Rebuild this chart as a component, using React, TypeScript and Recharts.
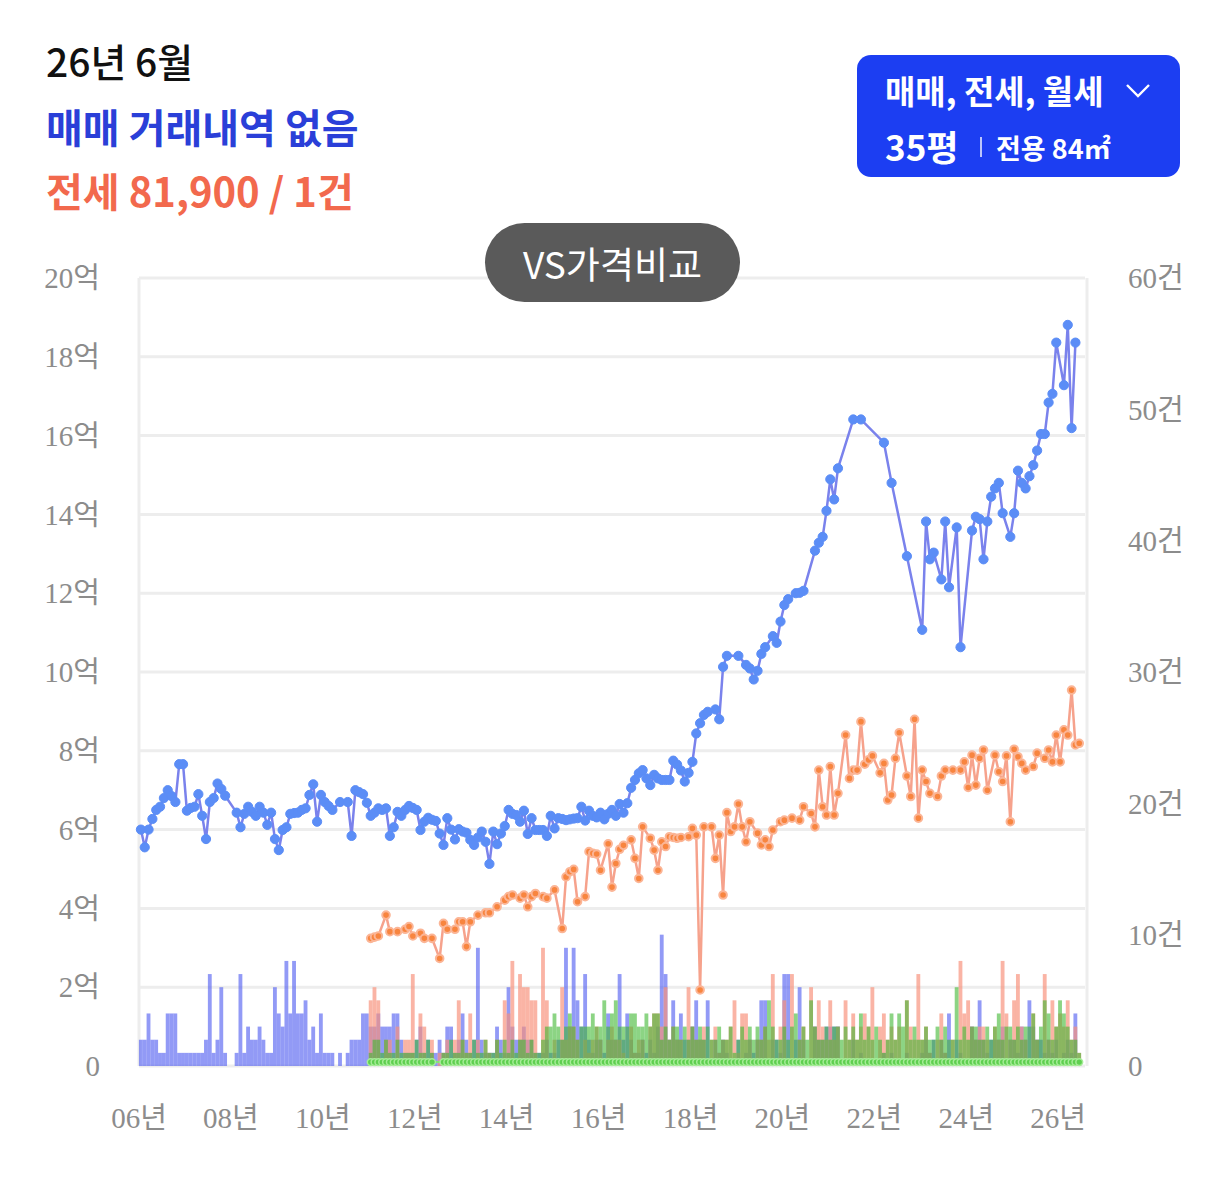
import React from 'react';
import { ComposedChart, Line, Bar, XAxis, YAxis, CartesianGrid } from 'recharts';

// Month index 0 = 2006-01 ... 245 = 2026-06
const yearTicks = [0, 24, 48, 72, 96, 120, 144, 168, 192, 216, 240];
const yearLabels = ['06년', '08년', '10년', '12년', '14년', '16년', '18년', '20년', '22년', '24년', '26년'];
const priceTicks = [0, 2, 4, 6, 8, 10, 12, 14, 16, 18, 20];
const countTicks = [0, 10, 20, 30, 40, 50, 60];

// 매매 price (억)
const salePrice: (number | null)[] = [
  6.0, 5.55, 6.0, 6.27, 6.5, 6.58, 6.8, 7.0, 6.85, 6.7, 7.66, 7.66,
  6.48, 6.55, 6.58, 6.9, 6.35, 5.76, 6.7, 6.8, 7.17, 7.03, 6.86, null,
  null, 6.43, 6.06, 6.4, 6.58, 6.45, 6.35, 6.58, 6.43, 6.12, 6.43, 5.76,
  5.48, 5.99, 6.06, 6.4, 6.42, 6.43, 6.5, 6.54, 6.88, 7.15, 6.2, 6.88,
  6.7, 6.6, 6.5, null, 6.7, null, 6.7, 5.84, 7.0, 6.95, 6.9, 6.68,
  6.35, 6.43, 6.54, 6.5, 6.54, 5.84, 6.06, 6.45, 6.35, 6.5, 6.6, 6.55,
  6.5, 5.99, 6.2, 6.3, 6.25, 6.22, 5.9, 5.61, 6.29, 6.0, 5.75, 6.01,
  5.95, 5.92, 5.74, 5.61, 5.8, 5.95, 5.69, 5.13, 5.95, 5.63, 5.9, 6.09,
  6.5, 6.4, 6.37, 6.2, 6.48, 5.89, 6.29, 5.99, 5.99, 5.99, 5.84, 6.35,
  6.03, 6.29, 6.27, 6.24, 6.26, 6.28, 6.29, 6.58, 6.23, 6.48, 6.35, 6.31,
  6.43, 6.26, 6.4, 6.5, 6.35, 6.65, 6.43, 6.67, 7.06, 7.26, 7.43, 7.51,
  7.3, 7.13, 7.39, 7.3, 7.26, 7.26, 7.26, 7.75, 7.65, 7.5, 7.22, 7.44,
  7.72, 8.44, 8.7, 8.91, 8.99, null, 9.05, 8.8, 10.13, 10.41, null, null,
  10.41, null, 10.18, 10.09, 9.81, 10.03, 10.46, 10.63, null, 10.91, 10.74, 11.28,
  11.7, 11.85, null, 12.0, 12.01, 12.06, null, null, 13.08, 13.28, 13.43, 14.09,
  14.89, 14.38, 15.17, null, null, null, 16.41, null, 16.41, null, null, null,
  null, null, 15.82, null, 14.8, null, null, null, 12.94, null, null, null,
  11.07, 13.82, 12.86, 13.03, null, 12.35, 13.82, 12.15, null, 13.67, 10.63, null,
  null, 13.59, 13.94, 13.88, 12.86, 13.82, 14.45, 14.66, 14.8, 14.03, null, 13.43,
  14.03, 15.11, 14.8, 14.66, 14.97, 15.25, 15.62, 16.04, 16.04, 16.84, 17.06, 18.36,
  null, 17.28, 18.81, 16.19, 18.36, null,
];

// 전세 price (억)
const jeonsePrice: (number | null)[] = [
  null, null, null, null, null, null, null, null, null, null, null, null,
  null, null, null, null, null, null, null, null, null, null, null, null,
  null, null, null, null, null, null, null, null, null, null, null, null,
  null, null, null, null, null, null, null, null, null, null, null, null,
  null, null, null, null, null, null, null, null, null, null, null, null,
  3.24, 3.27, 3.3, null, 3.83, 3.41, null, 3.41, null, 3.47, 3.54, 3.3,
  null, 3.37, 3.24, null, 3.24, null, 2.73, 3.62, 3.47, null, 3.47, 3.66,
  3.66, 3.03, 3.66, null, 3.83, null, 3.89, 3.89, null, 4.04, null, 4.21,
  4.3, 4.34, null, 4.26, 4.34, 4.04, 4.3, 4.38, null, 4.3, 4.26, null,
  4.47, null, 3.49, 4.8, 4.93, 4.99, 4.17, null, 4.3, 5.44, 5.4, 5.38,
  4.97, null, 5.64, 4.54, 5.14, 5.5, 5.6, null, 5.74, 5.27, 4.76, 6.07,
  null, 5.78, 5.48, 4.97, 5.69, 5.57, 5.82, 5.8, 5.78, 5.8, null, 5.82,
  6.03, 5.86, 1.93, 6.07, null, 6.07, 5.27, 5.86, 4.34, 6.43, 5.95, 6.07,
  6.65, 6.07, 5.69, 6.2, null, 5.91, 5.61, 5.74, 5.57, 5.99, null, 6.2,
  6.24, null, 6.29, null, 6.24, 6.58, null, 6.41, 6.07, 7.51, 6.58, 6.37,
  7.6, 6.37, 6.92, null, 8.4, 7.3, 7.51, 7.51, 8.74, 7.66, 7.77, 7.87,
  null, 7.44, 7.68, 6.75, 6.88, 7.81, 8.46, null, 7.36, 6.84, 8.8, 6.29,
  7.51, 7.22, 6.92, null, 6.84, 7.36, 7.51, null, 7.51, null, 7.51, 7.72,
  7.07, 7.89, 7.13, 7.81, 8.02, 7.0, null, 7.89, 7.47, 7.22, 7.87, 6.2,
  8.04, 7.85, 7.68, 7.51, null, 7.6, 7.94, null, 7.81, 8.02, 7.72, 8.4,
  7.72, 8.53, 8.4, 9.54, 8.15, 8.19,
];

// 월세 price (억, near zero)
const wolsePrice: (number | null)[] = [
  null, null, null, null, null, null, null, null, null, null, null, null,
  null, null, null, null, null, null, null, null, null, null, null, null,
  null, null, null, null, null, null, null, null, null, null, null, null,
  null, null, null, null, null, null, null, null, null, null, null, null,
  null, null, null, null, null, null, null, null, null, null, null, null,
  0.1, 0.1, 0.1, 0.1, 0.1, 0.1, 0.1, 0.1, 0.1, 0.1, 0.1, 0.1,
  0.1, 0.1, 0.1, 0.1, 0.1, null, null, 0.1, 0.1, 0.1, 0.1, 0.1,
  0.1, 0.1, 0.1, 0.1, 0.1, 0.1, 0.1, 0.1, 0.1, 0.1, 0.1, 0.1,
  0.1, 0.1, 0.1, 0.1, 0.1, 0.1, 0.1, 0.1, 0.1, 0.1, 0.1, 0.1,
  0.1, 0.1, 0.1, 0.1, 0.1, 0.1, 0.1, 0.1, 0.1, 0.1, 0.1, 0.1,
  0.1, 0.1, 0.1, 0.1, 0.1, 0.1, 0.1, 0.1, 0.1, 0.1, 0.1, 0.1,
  0.1, 0.1, 0.1, 0.1, 0.1, 0.1, 0.1, 0.1, 0.1, 0.1, 0.1, 0.1,
  0.1, 0.1, 0.1, 0.1, 0.1, 0.1, 0.1, 0.1, 0.1, 0.1, 0.1, 0.1,
  0.1, 0.1, 0.1, 0.1, 0.1, 0.1, 0.1, 0.1, 0.1, 0.1, 0.1, 0.1,
  0.1, 0.1, 0.1, 0.1, 0.1, 0.1, 0.1, 0.1, 0.1, 0.1, 0.1, 0.1,
  0.1, 0.1, 0.1, 0.1, 0.1, 0.1, 0.1, 0.1, 0.1, 0.1, 0.1, 0.1,
  0.1, 0.1, 0.1, 0.1, 0.1, 0.1, 0.1, 0.1, 0.1, 0.1, 0.1, 0.1,
  0.1, 0.1, 0.1, 0.1, 0.1, 0.1, 0.1, 0.1, 0.1, 0.1, 0.1, 0.1,
  0.1, 0.1, 0.1, 0.1, 0.1, 0.1, 0.1, 0.1, 0.1, 0.1, 0.1, 0.1,
  0.1, 0.1, 0.1, 0.1, 0.1, 0.1, 0.1, 0.1, 0.1, 0.1, 0.1, 0.1,
  0.1, 0.1, 0.1, 0.1, 0.1, 0.1,
];

// 매매 count (건)
const saleCount: number[] = [
  2, 2, 4, 2, 2, 1, 1, 4, 4, 4, 1, 1,
  1, 1, 1, 1, 1, 2, 7, 1, 2, 6, 1, 0,
  0, 1, 7, 1, 3, 2, 2, 3, 2, 1, 1, 6,
  4, 3, 8, 4, 8, 4, 4, 5, 2, 3, 1, 4,
  1, 1, 1, 0, 1, 0, 1, 2, 2, 2, 4, 4,
  3, 3, 4, 3, 3, 3, 4, 4, 2, 1, 1, 1,
  2, 3, 1, 2, 1, 1, 2, 1, 3, 3, 1, 2,
  4, 2, 1, 2, 9, 2, 1, 1, 1, 3, 2, 1,
  6, 3, 2, 2, 3, 2, 2, 1, 1, 1, 2, 1,
  1, 2, 2, 9, 3, 9, 5, 3, 7, 2, 1, 2,
  2, 1, 4, 2, 2, 7, 2, 4, 2, 1, 1, 2,
  1, 2, 1, 3, 10, 7, 2, 5, 2, 4, 2, 2,
  3, 5, 2, 2, 5, 0, 2, 1, 2, 1, 0, 0,
  2, 0, 1, 2, 1, 2, 5, 5, 0, 2, 2, 1,
  7, 7, 0, 2, 6, 2, 0, 0, 3, 2, 2, 3,
  3, 3, 3, 0, 0, 0, 2, 0, 1, 0, 0, 0,
  0, 0, 1, 0, 1, 0, 0, 0, 1, 0, 0, 0,
  1, 2, 1, 2, 0, 2, 1, 4, 0, 2, 1, 0,
  0, 3, 2, 5, 2, 1, 2, 2, 2, 3, 0, 2,
  2, 1, 3, 2, 5, 3, 2, 2, 1, 2, 1, 2,
  0, 1, 2, 1, 4, 0,
];

// 전세 count (건)
const jeonseCount: number[] = [
  0, 0, 0, 0, 0, 0, 0, 0, 0, 0, 0, 0,
  0, 0, 0, 0, 0, 0, 0, 0, 0, 0, 0, 0,
  0, 0, 0, 0, 0, 0, 0, 0, 0, 0, 0, 0,
  0, 0, 0, 0, 0, 0, 0, 0, 0, 0, 0, 0,
  0, 0, 0, 0, 0, 0, 0, 0, 0, 0, 0, 0,
  5, 6, 5, 0, 2, 2, 0, 3, 0, 2, 2, 7,
  0, 4, 3, 0, 2, 0, 1, 1, 2, 0, 2, 5,
  2, 1, 4, 0, 2, 0, 2, 1, 0, 2, 0, 5,
  4, 8, 0, 7, 6, 6, 5, 5, 0, 9, 5, 0,
  2, 0, 6, 2, 3, 3, 2, 0, 2, 1, 2, 3,
  2, 0, 2, 3, 2, 2, 1, 0, 3, 1, 2, 2,
  0, 3, 4, 4, 3, 6, 2, 3, 2, 2, 0, 6,
  3, 2, 2, 3, 0, 2, 3, 1, 2, 2, 3, 5,
  1, 4, 4, 2, 0, 2, 2, 3, 2, 7, 0, 3,
  5, 0, 7, 0, 2, 3, 0, 6, 3, 5, 3, 2,
  5, 2, 3, 0, 5, 2, 4, 2, 3, 4, 3, 6,
  0, 3, 4, 2, 3, 2, 3, 0, 5, 3, 2, 7,
  2, 3, 1, 0, 2, 4, 1, 0, 2, 0, 8, 4,
  5, 3, 2, 3, 3, 2, 0, 3, 2, 8, 4, 2,
  5, 7, 3, 2, 0, 4, 2, 0, 7, 2, 5, 3,
  4, 3, 5, 2, 3, 1,
];

// 월세 count (건)
const wolseCount: number[] = [
  0, 0, 0, 0, 0, 0, 0, 0, 0, 0, 0, 0,
  0, 0, 0, 0, 0, 0, 0, 0, 0, 0, 0, 0,
  0, 0, 0, 0, 0, 0, 0, 0, 0, 0, 0, 0,
  0, 0, 0, 0, 0, 0, 0, 0, 0, 0, 0, 0,
  0, 0, 0, 0, 0, 0, 0, 0, 0, 0, 0, 0,
  1, 2, 2, 1, 2, 1, 1, 2, 1, 1, 1, 1,
  2, 1, 1, 2, 1, 0, 0, 1, 1, 2, 1, 1,
  2, 1, 1, 2, 1, 1, 2, 1, 1, 2, 1, 2,
  1, 2, 1, 2, 2, 1, 2, 1, 1, 2, 3, 3,
  4, 3, 2, 3, 4, 3, 2, 3, 3, 3, 4, 3,
  3, 5, 3, 4, 5, 3, 3, 3, 4, 4, 3, 3,
  4, 3, 4, 4, 2, 3, 2, 3, 3, 2, 3, 2,
  3, 2, 3, 2, 3, 2, 2, 3, 2, 2, 3, 1,
  2, 3, 2, 3, 2, 3, 2, 3, 5, 3, 2, 2,
  3, 2, 3, 4, 2, 3, 2, 5, 3, 2, 2, 3,
  2, 3, 3, 2, 3, 2, 3, 2, 4, 2, 3, 2,
  3, 2, 1, 2, 4, 2, 4, 3, 5, 2, 3, 2,
  2, 3, 2, 2, 3, 2, 3, 2, 2, 6, 2, 3,
  2, 3, 3, 2, 2, 3, 2, 3, 4, 2, 3, 3,
  2, 3, 2, 3, 3, 4, 2, 3, 5, 4, 2, 3,
  5, 4, 3, 2, 2, 1,
];

const data = salePrice.map((_, i) => ({
  x: i + 0.5,
  sale: salePrice[i],
  jeonse: jeonsePrice[i],
  wolse: wolsePrice[i],
  saleCnt: saleCount[i],
  jeonseCnt: jeonseCount[i],
  wolseCnt: wolseCount[i],
}));

const FONT = "'Noto Sans CJK KR', 'Noto Sans', sans-serif";
const AXIS_FONT = "'Liberation Serif', 'Noto Sans CJK KR', serif";
const tickStyle = { fill: '#8c8c8c', fontSize: 29, fontFamily: AXIS_FONT };

// bars widened just enough that neighbouring months touch, as in the reference
const makeShape = (fill: string, opacity: number) => (p: any) => {
  if (!p || !p.height || p.height <= 0) return <g />;
  return <rect x={p.x - 0.07} y={p.y} width={p.width + 0.14} height={p.height} fill={fill} fillOpacity={opacity} />;
};

export default function App() {
  return (
    <div style={{ position: 'absolute', left: 0, top: 0, width: 1226, height: 1178, background: '#fff', overflow: 'hidden' }}>
      <div style={{ position: 'absolute', left: 0, top: 0 }}>
        <ComposedChart
          width={1226}
          height={1178}
          data={data}
          margin={{ top: 278, left: 39, right: 41, bottom: 52 }}
        >
          <CartesianGrid
            xAxisId="x"
            yAxisId="left"
            stroke="#ededed"
            strokeWidth={3}
            verticalCoordinatesGenerator={({ offset }: any) => [offset.left, offset.left + offset.width + 2]}
          />
          <XAxis
            xAxisId="x"
            type="number"
            dataKey="x"
            domain={[0, 247]}
            ticks={yearTicks}
            interval={0}
            tickFormatter={(v: number) => yearLabels[yearTicks.indexOf(v)]}
            axisLine={false}
            tickLine={false}
            tickMargin={35}
            height={60}
            tick={tickStyle}
          />
          <XAxis xAxisId="xb" type="number" dataKey="x" domain={[0, 247]} hide />
          <XAxis xAxisId="xg" type="number" dataKey="x" domain={[0, 247]} hide />
          <YAxis
            yAxisId="left"
            orientation="left"
            domain={[0, 20]}
            ticks={priceTicks}
            interval={0}
            tickFormatter={(v: number) => (v === 0 ? '0' : `${v}억`)}
            axisLine={false}
            tickLine={false}
            tickMargin={33}
            width={100}
            tick={tickStyle}
          />
          <YAxis
            yAxisId="right"
            orientation="right"
            domain={[0, 60]}
            ticks={countTicks}
            interval={0}
            tickFormatter={(v: number) => (v === 0 ? '0' : `${v}건`)}
            axisLine={false}
            tickLine={false}
            tickMargin={37}
            width={100}
            tick={{ ...tickStyle, textAnchor: 'start' }}
          />
          <Bar xAxisId="x" yAxisId="right" dataKey="saleCnt" barSize={3.7} fill="#4f5cf0" shape={makeShape('#4f5cf0', 0.62)} isAnimationActive={false} />
          <Bar xAxisId="xb" yAxisId="right" dataKey="jeonseCnt" barSize={3.7} fill="#f7907a" shape={makeShape('#f7907a', 0.68)} isAnimationActive={false} />
          <Bar xAxisId="xg" yAxisId="right" dataKey="wolseCnt" barSize={3.7} fill="#3fb832" shape={makeShape('#3fb832', 0.6)} isAnimationActive={false} />
          <Line
            xAxisId="x"
            yAxisId="left"
            dataKey="wolse"
            stroke="#86e07a"
            strokeWidth={2}
            connectNulls
            dot={{ r: 3.4, fill: '#5fcf50', stroke: '#a6ec98', strokeWidth: 1.5 }}
            isAnimationActive={false}
          />
          <Line
            xAxisId="x"
            yAxisId="left"
            dataKey="jeonse"
            stroke="#f6a28c"
            strokeWidth={2.5}
            connectNulls
            dot={{ r: 3.8, fill: '#f8853f', stroke: '#fbb596', strokeWidth: 2 }}
            isAnimationActive={false}
          />
          <Line
            xAxisId="x"
            yAxisId="left"
            dataKey="sale"
            stroke="#7a82ec"
            strokeWidth={2.5}
            connectNulls
            dot={{ r: 4.6, fill: '#5b8df6', stroke: '#5b8df6', strokeWidth: 1 }}
            isAnimationActive={false}
          />
        </ComposedChart>
      </div>

      <div style={{ position: 'absolute', left: 46, top: 37, fontFamily: FONT, fontSize: 39, fontWeight: 500, color: '#111', lineHeight: '46px', whiteSpace: 'nowrap' }}>
        26년 6월
      </div>
      <div style={{ position: 'absolute', left: 46, top: 102, fontFamily: FONT, fontSize: 40, fontWeight: 700, color: '#2a3fd8', lineHeight: '48px', whiteSpace: 'nowrap' }}>
        매매 거래내역 없음
      </div>
      <div style={{ position: 'absolute', left: 46, top: 166, fontFamily: FONT, fontSize: 40, fontWeight: 700, color: '#f2694d', lineHeight: '48px', whiteSpace: 'nowrap' }}>
        전세 81,900 / 1건
      </div>

      <div style={{ position: 'absolute', left: 857, top: 55, width: 323, height: 122, borderRadius: 14, background: '#1c3ef2', fontFamily: FONT, color: '#fff' }}>
        <div style={{ position: 'absolute', left: 28, top: 14, fontSize: 33, fontWeight: 700, lineHeight: '42px', whiteSpace: 'nowrap' }}>매매, 전세, 월세</div>
        <svg style={{ position: 'absolute', left: 268, top: 28 }} width={26} height={16}>
          <polyline points="2,2 13,13 24,2" fill="none" stroke="#fff" strokeWidth={2.4} />
        </svg>
        <div style={{ position: 'absolute', left: 28, top: 70, fontSize: 35, fontWeight: 700, lineHeight: '42px', whiteSpace: 'nowrap' }}>35평</div>
        <div style={{ position: 'absolute', left: 123, top: 82, width: 2, height: 20, background: 'rgba(255,255,255,0.7)' }} />
        <div style={{ position: 'absolute', left: 139, top: 75, fontSize: 27, fontWeight: 700, lineHeight: '36px', whiteSpace: 'nowrap' }}>전용 84㎡</div>
      </div>

      <div style={{ position: 'absolute', left: 485, top: 223, width: 255, height: 79, borderRadius: 40, background: '#5a5a5a', color: '#fff', fontFamily: FONT, fontSize: 37, display: 'flex', alignItems: 'center', justifyContent: 'center', whiteSpace: 'nowrap' }}>
        VS가격비교
      </div>
    </div>
  );
}
